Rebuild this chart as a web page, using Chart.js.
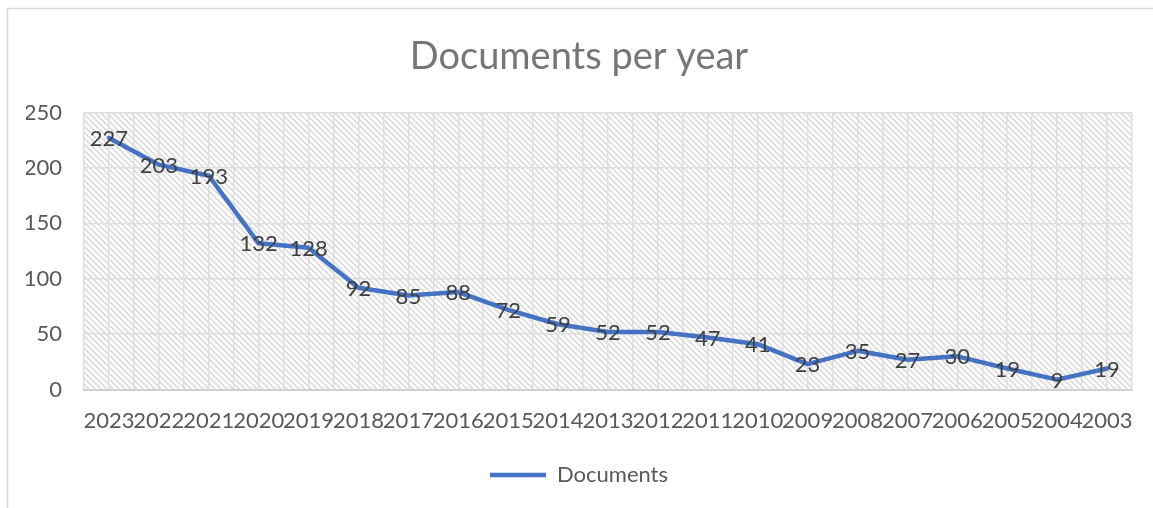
<!DOCTYPE html>
<html>
<head>
<meta charset="utf-8">
<script src="https://cdn.jsdelivr.net/npm/chart.js@4.4.1/dist/chart.umd.min.js"></script>
<style>
  html, body { margin: 0; padding: 0; background: #fff; }
  canvas { display: block; }
</style>
</head>
<body>
<canvas id="chart" width="1153" height="508"></canvas>
<script>
const years = ['2023','2022','2021','2020','2019','2018','2017','2016','2015','2014','2013','2012','2011','2010','2009','2008','2007','2006','2005','2004','2003'];
const documents = [227,203,193,132,128,92,85,88,72,59,52,52,47,41,23,35,27,30,19,9,19];
const yTicks = [0, 50, 100, 150, 200, 250];

const fontFam = 'Lato, "Open Sans", sans-serif';

// diagonal hatch like Excel's light downward diagonal
const makeHatch = ctx => {
    const c = document.createElement('canvas');
    c.width = 6; c.height = 6;
    const p = c.getContext('2d');
    p.fillStyle = '#ffffff';
    p.fillRect(0, 0, 6, 6);
    p.strokeStyle = '#d8d8d8';
    p.lineWidth = 1.5;
    p.beginPath();
    p.moveTo(-1, -1); p.lineTo(7, 7);
    p.moveTo(-1, 5); p.lineTo(1, 7);
    p.moveTo(5, -1); p.lineTo(7, 1);
    p.stroke();
    return ctx.createPattern(c, 'repeat');
};

const background = {
    id: 'background',
    beforeDraw(chart) {
        const { ctx, chartArea: a } = chart;
        ctx.save();
        ctx.strokeStyle = '#d9d9d9';
        ctx.lineWidth = 1.5;
        ctx.strokeRect(7.5, 8.5, 1200, 600);
        ctx.fillStyle = makeHatch(ctx);
        ctx.fillRect(a.left, a.top, a.right - a.left, a.bottom - a.top);
        ctx.restore();
    }
};

const pointLabels = {
    id: 'pointLabels',
    afterDatasetsDraw(chart) {
        const { ctx } = chart;
        const meta = chart.getDatasetMeta(0);
        ctx.save();
        ctx.font = '22px ' + fontFam;
        ctx.fillStyle = '#404040';
        ctx.textAlign = 'center';
        ctx.textBaseline = 'middle';
        meta.data.forEach((pt, i) => {
            ctx.fillText(String(documents[i]), pt.x, pt.y + 1);
        });
        ctx.restore();
    }
};

new Chart(document.getElementById('chart'), {
    type: 'line',
    data: {
        labels: years,
        datasets: [{
            label: 'Documents',
            data: documents,
            borderColor: '#4472C4',
            backgroundColor: '#4472C4',
            borderWidth: 4.5,
            pointRadius: 0,
            tension: 0,
            borderCapStyle: 'round',
            borderJoinStyle: 'round'
        }]
    },
    options: {
        responsive: false,
        animation: false,
        layout: { padding: { left: 26, right: 21, top: 0, bottom: 12 } },
        plugins: {
            title: {
                display: true,
                text: 'Documents per year',
                color: '#767676',
                font: { family: fontFam, size: 38, weight: 'normal' },
                padding: { top: 34, bottom: 33 }
            },
            legend: {
                position: 'bottom',
                labels: {
                    usePointStyle: true,
                    pointStyle: 'line',
                    pointStyleWidth: 56,
                    color: '#595959',
                    font: { family: fontFam, size: 22 },
                    padding: 12
                }
            },
            tooltip: { enabled: false }
        },
        scales: {
            x: {
                offset: true,
                grid: { offset: true, color: '#dedede', lineWidth: 1.5, drawTicks: false },
                border: { color: '#d0d0d0', width: 2 },
                ticks: {
                    color: '#595959',
                    font: { family: fontFam, size: 22 },
                    padding: 18,
                    maxRotation: 0,
                    autoSkip: false
                }
            },
            x2: {
                type: 'category',
                labels: years,
                position: 'bottom',
                offset: true,
                grid: { offset: false, color: '#dedede', lineWidth: 1.5, drawTicks: false },
                border: { display: false },
                ticks: { display: false }
            },
            y: {
                min: 0,
                max: 250,
                afterFit(scale) { scale.width = 58; },
                afterBuildTicks(scale) { scale.ticks = yTicks.map(v => ({ value: v })); },
                grid: { color: '#dedede', lineWidth: 1.5, drawTicks: false },
                border: { display: false },
                ticks: {
                    color: '#595959',
                    font: { family: fontFam, size: 22 },
                    padding: 22
                }
            }
        }
    },
    plugins: [background, pointLabels]
});
</script>
</body>
</html>
